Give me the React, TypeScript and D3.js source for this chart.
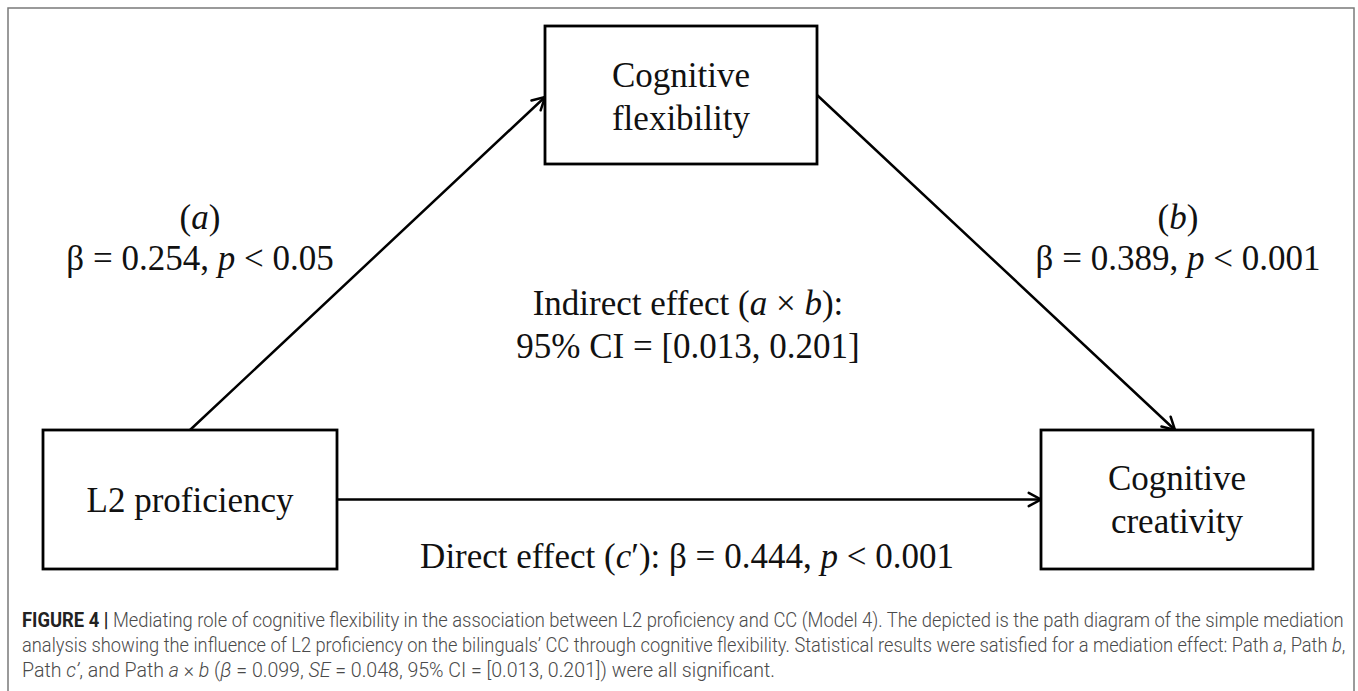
import React, { useLayoutEffect, useRef, useState } from "react";
import * as d3 from "d3";

// ---------- data ----------
const nodeIds = ["X", "M", "Y"];
const nodeLines = [["L2 proficiency"], ["Cognitive", "flexibility"], ["Cognitive", "creativity"]];

const pathFrom = ["X", "M", "X"];
const pathTo = ["M", "Y", "Y"];
const pathNames = ["a", "b", "c′"];
const pathBetas = [0.254, 0.389, 0.444];
const pathP = ["0.05", "0.001", "0.001"];

const indirectCI = [0.013, 0.201];
const indirectBeta = 0.099;
const indirectSE = 0.048;

const captionLead = "FIGURE 4 |";
const captionLine1 =
  " Mediating role of cognitive flexibility in the association between L2 proficiency and CC (Model 4). The depicted is the path diagram of the simple mediation";
const captionLine2a =
  "analysis showing the influence of L2 proficiency on the bilinguals’ CC through cognitive flexibility. Statistical results were satisfied for a mediation effect: Path ";

// ---------- layout ----------
const W = 1358;
const H = 691;
const SERIF = "'Liberation Serif', 'Times New Roman', serif";
const SANS = "Roboto, 'Liberation Sans', Arial, sans-serif";
const FS = 35;

const captionY = [627, 652, 677];
const captionWidth = [1322, 1323, 753];

// box geometry (layout, not data)
const boxGeom: Record<string, { x0: number; x1: number; y0: number; y1: number; base: number[] }> = {
  X: { x0: 43, x1: 337, y0: 430, y1: 569, base: [512] },
  M: { x0: 545, x1: 817, y0: 26, y1: 164, base: [87, 130] },
  Y: { x0: 1041, x1: 1313, y0: 430, y1: 569, base: [490, 533] },
};

// anchor points on boxes for each path
function anchors(i: number): [[number, number], [number, number]] {
  const f = boxGeom[pathFrom[i]];
  const t = boxGeom[pathTo[i]];
  if (i === 0) return [[190, f.y0], [t.x0, 97]];
  if (i === 1) return [[f.x1, 95], [1175, t.y0]];
  return [[f.x1, 499.5], [t.x0, 499.5]];
}

const fmt = d3.format(".3f");

export default function App() {
  const line = d3.line<[number, number]>().x((d) => d[0]).y((d) => d[1]);
  const refs = [useRef<SVGTextElement>(null), useRef<SVGTextElement>(null), useRef<SVGTextElement>(null)];
  const [sx, setSx] = useState([0.86, 0.86, 0.86]);

  useLayoutEffect(() => {
    const s = refs.map((r, i) => {
      const el = r.current;
      if (!el) return 0.86;
      const w = el.getComputedTextLength();
      return w > 0 ? captionWidth[i] / w : 0.86;
    });
    setSx(s);
  }, []);

  const arrowHead = (p0: [number, number], p1: [number, number]) => {
    const ang = Math.atan2(p1[1] - p0[1], p1[0] - p0[0]);
    const L = 14;
    const spread = 0.5;
    const a1: [number, number] = [p1[0] - L * Math.cos(ang - spread), p1[1] - L * Math.sin(ang - spread)];
    const a2: [number, number] = [p1[0] - L * Math.cos(ang + spread), p1[1] - L * Math.sin(ang + spread)];
    return line([a1, p1, a2]) as string;
  };

  const labelPos = [
    { x: 200, y1: 229, y2: 270 },
    { x: 1178, y1: 229, y2: 270 },
  ];

  return (
    <svg width={W} height={H} style={{ position: "absolute", left: 0, top: 0, background: "#fff" }}>
      <rect x={0} y={0} width={W} height={H} fill="#fff" />
      {/* outer frame */}
      <rect x={8} y={8} width={1346} height={700} fill="none" stroke="#7a7a7a" strokeWidth={1.5} />

      {/* paths */}
      {pathNames.map((n, i) => {
        const [p0, p1] = anchors(i);
        return (
          <g key={"p" + i} stroke="#000" strokeWidth={2.5} fill="none" strokeLinecap="round" strokeLinejoin="miter">
            <path d={line([p0, p1]) as string} />
            <path d={arrowHead(p0, p1)} />
          </g>
        );
      })}

      {/* boxes */}
      {nodeIds.map((id, i) => {
        const g = boxGeom[id];
        const cx = (g.x0 + g.x1) / 2;
        return (
          <g key={id}>
            <rect x={g.x0} y={g.y0} width={g.x1 - g.x0} height={g.y1 - g.y0} fill="#fff" stroke="#000" strokeWidth={2.8} />
            {nodeLines[i].map((t, k) => (
              <text key={k} x={cx} y={g.base[k]} textAnchor="middle" fontFamily={SERIF} fontSize={FS} fill="#111">
                {t}
              </text>
            ))}
          </g>
        );
      })}

      {/* path a, b labels */}
      {[0, 1].map((i) => (
        <g key={"l" + i} fontFamily={SERIF} fontSize={FS} fill="#111" textAnchor="middle">
          <text x={labelPos[i].x} y={labelPos[i].y1}>
            (<tspan fontStyle="italic">{pathNames[i]}</tspan>)
          </text>
          <text x={labelPos[i].x} y={labelPos[i].y2}>
            β = {fmt(pathBetas[i])}, <tspan fontStyle="italic">p</tspan> {"<"} {pathP[i]}
          </text>
        </g>
      ))}

      {/* indirect effect */}
      <g fontFamily={SERIF} fontSize={FS} fill="#111" textAnchor="middle">
        <text x={688} y={315}>
          Indirect effect (<tspan fontStyle="italic">a</tspan> × <tspan fontStyle="italic">b</tspan>):
        </text>
        <text x={688} y={358}>
          95% CI = [{fmt(indirectCI[0])}, {fmt(indirectCI[1])}]
        </text>
        <text x={687} y={568}>
          Direct effect (<tspan fontStyle="italic">c</tspan>′): β = {fmt(pathBetas[2])}, <tspan fontStyle="italic">p</tspan> {"<"} {pathP[2]}
        </text>
      </g>

      {/* caption */}
      <g fontFamily={SANS} fontSize={20} fill="#4a4a4a" fontWeight={300}>
        <text ref={refs[0]} x={0} y={0} transform={`translate(22,${captionY[0]}) scale(${sx[0]},1)`}>
          <tspan fontWeight={700} fill="#222">{captionLead}</tspan>
          {captionLine1}
        </text>
        <text ref={refs[1]} x={0} y={0} transform={`translate(22,${captionY[1]}) scale(${sx[1]},1)`}>
          {captionLine2a}
          <tspan fontStyle="italic">a</tspan>, Path <tspan fontStyle="italic">b</tspan>,
        </text>
        <text ref={refs[2]} x={0} y={0} transform={`translate(22,${captionY[2]}) scale(${sx[2]},1)`}>
          Path <tspan fontStyle="italic">c’</tspan>, and Path <tspan fontStyle="italic">a</tspan> × <tspan fontStyle="italic">b</tspan> (
          <tspan fontStyle="italic">β</tspan> = {fmt(indirectBeta)}, <tspan fontStyle="italic">SE</tspan> = {fmt(indirectSE)}, 95% CI = [
          {fmt(indirectCI[0])}, {fmt(indirectCI[1])}]) were all significant.
        </text>
      </g>
    </svg>
  );
}
